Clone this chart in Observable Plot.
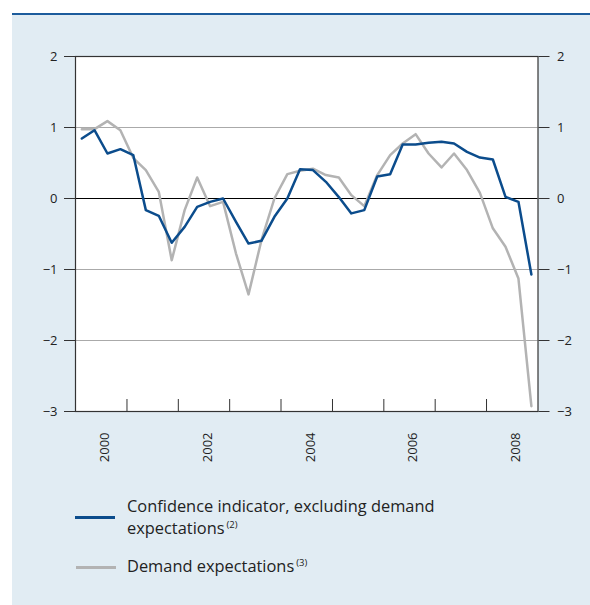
<!DOCTYPE html>
<html>
<head>
<meta charset="utf-8">
<script src="https://cdn.jsdelivr.net/npm/d3@7"></script>
<script src="https://cdn.jsdelivr.net/npm/@observablehq/plot@0.6"></script>
<style>
  body { margin: 0; background: #fff; font-family: "Open Sans", sans-serif; }
  #panel { position: absolute; left: 12px; top: 13px; width: 578px; height: 590px; background: #e1ecf3; border-top: 2px solid #1d5c9c; }
  #chart { position: absolute; left: 0; top: 0; }
  .sw { position: absolute; height: 2.5px; width: 40px; }
  .lt { position: absolute; font-size: 16.4px; line-height: 22.4px; color: #222; white-space: nowrap; }
  .lt sup { font-size: 9.5px; vertical-align: 6px; line-height: 0; margin-left: 2px; }
</style>
</head>
<body>
<div id="panel"></div>
<div id="chart"></div>
<div class="sw" style="left:75px;top:516px;background:#0b4c8c"></div>
<div class="lt" style="left:127px;top:495px">Confidence indicator, excluding demand<br>expectations<sup>(2)</sup></div>
<div class="sw" style="left:76px;top:566px;background:#b3b3b3"></div>
<div class="lt" style="left:127px;top:555px">Demand expectations<sup>(3)</sup></div>
<script>
const quarters = [
  "2000Q1","2000Q2","2000Q3","2000Q4","2001Q1","2001Q2","2001Q3","2001Q4",
  "2002Q1","2002Q2","2002Q3","2002Q4","2003Q1","2003Q2","2003Q3","2003Q4",
  "2004Q1","2004Q2","2004Q3","2004Q4","2005Q1","2005Q2","2005Q3","2005Q4",
  "2006Q1","2006Q2","2006Q3","2006Q4","2007Q1","2007Q2","2007Q3","2007Q4",
  "2008Q1","2008Q2","2008Q3","2008Q4"
];
const confidence = [
  0.845, 0.962, 0.634, 0.695, 0.61, -0.164, -0.244, -0.624,
  -0.40, -0.117, -0.047, 0.0, -0.33, -0.634, -0.596, -0.258,
  0.0, 0.413, 0.40, 0.235, 0.02, -0.21, -0.164, 0.31,
  0.343, 0.76, 0.76, 0.784, 0.798, 0.775, 0.657, 0.577,
  0.549, 0.023, -0.047, -1.07
];
const demand = [
  0.977, 0.977, 1.09, 0.962, 0.57, 0.40, 0.094, -0.87,
  -0.164, 0.296, -0.108, -0.047, -0.775, -1.35, -0.587, 0.0,
  0.343, 0.39, 0.42, 0.33, 0.296, 0.047, -0.108, 0.33,
  0.61, 0.775, 0.906, 0.634, 0.437, 0.634, 0.40, 0.08,
  -0.42, -0.68, -1.127, -2.925
];
const yTicks = [-3, -2, -1, 0, 1, 2];
const gridLines = [-2, -1, 1];
const yearLabels = [2000, 2002, 2004, 2006, 2008];
const yearBoundaries = [2001, 2002, 2003, 2004, 2005, 2006, 2007, 2008];

const qDate = (s) => new Date(Date.UTC(+s.slice(0, 4), (+s.slice(5) - 1) * 3 + 1, 15));
const rows = (vals) => quarters.map((q, i) => ({ date: qDate(q), value: vals[i] }));
const confRows = rows(confidence);
const demRows = rows(demand);

const minus = (d) => (d < 0 ? "\u2212" + Math.abs(d) : String(d));

const chart = Plot.plot({
  width: 590,
  height: 480,
  marginLeft: 75,
  marginRight: 52.5,
  marginTop: 56,
  marginBottom: 69,
  style: { background: "transparent", fontFamily: "Open Sans, sans-serif", fontSize: "13px", color: "#222" },
  x: { type: "utc", domain: [new Date(Date.UTC(2000, 0, 1)), new Date(Date.UTC(2009, 0, 1))], label: null },
  y: { domain: [-3, 2], label: null },
  marks: [
    Plot.frame({ fill: "white" }),
    Plot.ruleY(gridLines, { stroke: "#aaa", strokeWidth: 1 }),
    Plot.ruleY([0], { stroke: "#000", strokeWidth: 1.2 }),
    Plot.line(demRows, { x: "date", y: "value", stroke: "#b3b3b3", strokeWidth: 2.5 }),
    Plot.line(confRows, { x: "date", y: "value", stroke: "#0b4c8c", strokeWidth: 2.5 }),
    Plot.axisY(yTicks, { anchor: "left", tickSize: 11, tickPadding: 7, tickFormat: minus, stroke: "#333", label: null }),
    Plot.axisY(yTicks, { anchor: "right", tickSize: 11, tickPadding: 8, tickFormat: minus, stroke: "#333", label: null }),
    Plot.axisX(yearBoundaries.map((y) => new Date(Date.UTC(y, 0, 1))), { anchor: "bottom", tickSize: 12, dy: -12, tickFormat: () => "", stroke: "#333", label: null }),
    Plot.axisX(yearLabels.map((y) => new Date(Date.UTC(y, 6, 1))), { anchor: "bottom", tickSize: 0, tickPadding: 21, tickRotate: -90, dx: 4, tickFormat: (d) => String(d.getUTCFullYear()), label: null }),
    Plot.frame({ stroke: "#333", strokeWidth: 1.2 })
  ]
});
document.getElementById("chart").appendChild(chart);
</script>
</body>
</html>
